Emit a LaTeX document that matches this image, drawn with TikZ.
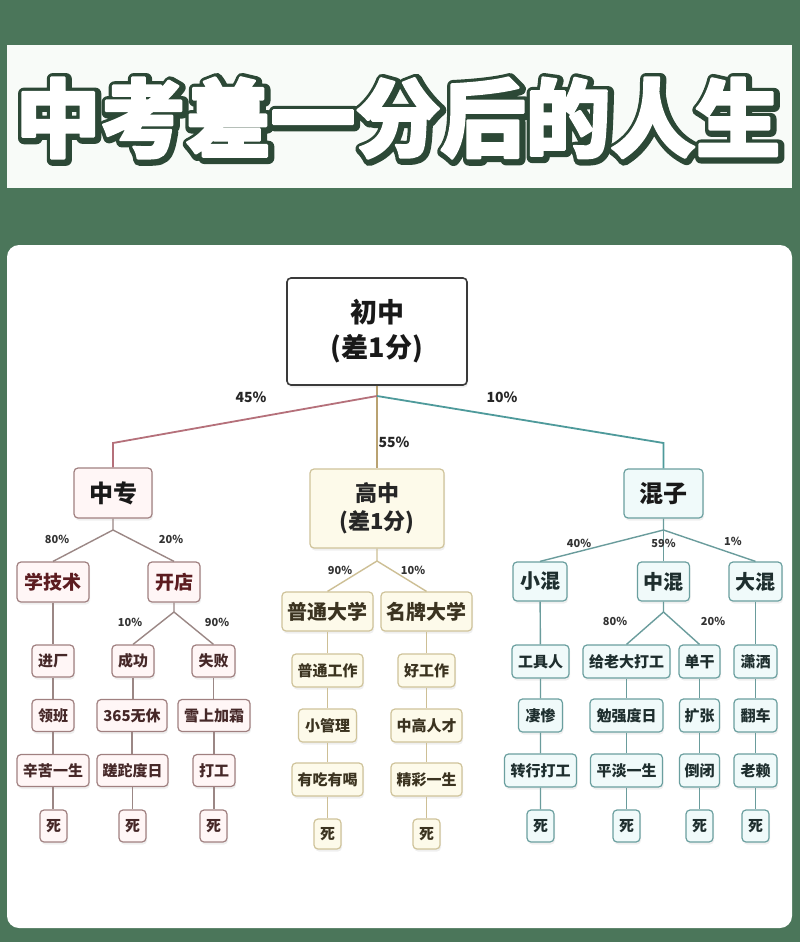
\documentclass[tikz,border=0pt]{standalone}
\usepackage{fontspec}
\setmainfont{Noto Sans CJK SC}
\usetikzlibrary{calc,shadows}
\newcommand\myfs[1]{\fontsize{#1}{#1}\selectfont}
\newcommand\strokedtext[2]{\special{pdf:literal direct 2 Tr #1 w 1 j}#2\special{pdf:literal direct 0 Tr 1 w 0 j}}
\definecolor{bgc}{RGB}{75,118,90}
\definecolor{titleol}{RGB}{44,72,54}
\definecolor{titlebox}{RGB}{248,251,248}
\definecolor{rootbd}{RGB}{58,58,58}
\definecolor{lbd}{RGB}{160,128,128}
\definecolor{lfl}{RGB}{255,246,246}
\definecolor{ltx}{RGB}{70,40,40}
\definecolor{lbig}{RGB}{92,28,32}
\definecolor{led}{RGB}{155,135,133}
\definecolor{ltop}{RGB}{181,112,122}
\definecolor{mbd}{RGB}{207,195,154}
\definecolor{mfl}{RGB}{253,250,234}
\definecolor{mtx}{RGB}{59,51,32}
\definecolor{med}{RGB}{205,191,149}
\definecolor{mtop}{RGB}{185,162,113}
\definecolor{rbd}{RGB}{106,159,159}
\definecolor{rfl}{RGB}{240,250,250}
\definecolor{rtx}{RGB}{30,46,46}
\definecolor{red}{RGB}{106,156,156}
\definecolor{rtop}{RGB}{78,154,155}
\begin{document}
\begin{tikzpicture}[x=1pt,y=-1pt,
  bx/.style={rounded corners=4pt, line width=1.2pt, inner sep=0pt, align=center,
    drop shadow={opacity=0.12, shadow xshift=1pt, shadow yshift=-2.5pt}},
  sz/.style 2 args={minimum width=#1pt, minimum height=#2pt},
  lb/.style={bx, draw=lbd, fill=lfl, text=ltx, font=\bfseries\myfs{15}},
  mb/.style={bx, draw=mbd, fill=mfl, text=mtx, font=\bfseries\myfs{15}},
  rb/.style={bx, draw=rbd, fill=rfl, text=rtx, font=\bfseries\myfs{15}},
  le/.style={draw=led, line width=1.4pt},
  me/.style={draw=med, line width=1.4pt},
  re/.style={draw=red, line width=1.4pt},
  pct/.style={font=\bfseries\myfs{11}, text=black!80, inner sep=0pt},
  bigpct/.style={font=\bfseries\myfs{14}, text=black!85, inner sep=0pt},
  ttl/.style={font=\bfseries\myfs{85}, inner sep=0pt}
]
\useasboundingbox (0,0) rectangle (800,942);
\fill[bgc] (0,0) rectangle (800,942);
% title
\fill[titlebox] (7,45) rectangle (792,188);
\node[ttl, text=titleol] (titleshadow) at (399.5,119.5) {\strokedtext{12}{中考差一分后的人生}};
\node[ttl, text=white] (title) at (398,118) {\strokedtext{2.5}{中考差一分后的人生}};
% panel
\fill[white, rounded corners=12pt] (7,245) rectangle (792,928);

% root and first level
\node[bx, draw=rootbd, fill=white, line width=1.6pt, sz={180}{107}, font=\bfseries\myfs{27}, text=black!90] (root) at (377,331.5) {\raisebox{-3pt}{初中}\\[8pt]\raisebox{-3pt}{(差1分)}};
\node[lb, sz={78}{50}, font=\bfseries\myfs{24}, text=black!90] (zz) at (113,493) {中专};
\node[mb, sz={134}{79}, font=\bfseries\myfs{22}, text=black!85] (gz) at (377,508.5) {高中\\[6pt](差1分)};
\node[rb, sz={79}{49}, font=\bfseries\myfs{24}, text=black!90] (hz) at (663.5,493.5) {混子};

\coordinate (rj) at (377,396);
\coordinate (lc) at (113,443);
\coordinate (rc) at (663.5,443);
\draw[mtop, line width=1.8pt] (root.south) -- (gz.north);
\draw[ltop, line width=1.8pt] (rj) -- (lc) -- (zz.north);
\draw[rtop, line width=1.8pt] (rj) -- (rc) -- (hz.north);
\node[bigpct] (p45) at (251,397) {45\%};
\node[bigpct] (p10) at (502,397) {10\%};
\node[bigpct] (p55) at (394,442) {55\%};

% ---------------- left tree
\node[lb, sz={72}{40}, font=\bfseries\myfs{19}, text=lbig] (xjs) at (53,582) {学技术};
\node[lb, sz={52}{40}, font=\bfseries\myfs{19}, text=lbig] (kd) at (174,582) {开店};
\coordinate (j1) at (113,530);
\draw[le] (zz.south) -- (j1) -- (xjs.north);
\draw[le] (j1) -- (kd.north);
\node[pct] (p80a) at (57,539) {80\%};
\node[pct] (p20a) at (171,539) {20\%};

\node[lb, sz={42}{32}] (l11) at (53,661) {进厂};
\node[lb, sz={42}{32}] (l21) at (133,661) {成功};
\node[lb, sz={43}{32}] (l31) at (213.5,661) {失败};
\node[lb, sz={42}{32}] (l12) at (53,715.5) {领班};
\node[lb, sz={70}{32}] (l22) at (132,715.5) {365无休};
\node[lb, sz={72}{32}] (l32) at (214,715.5) {雪上加霜};
\node[lb, sz={72}{32}] (l13) at (53,770.5) {辛苦一生};
\node[lb, sz={71}{32}] (l23) at (132.5,770.5) {蹉跎度日};
\node[lb, sz={42}{32}] (l33) at (214,770.5) {打工};
\node[lb, sz={27}{32}] (l14) at (53.5,826) {死};
\node[lb, sz={27}{32}] (l24) at (132.5,826) {死};
\node[lb, sz={27}{32}] (l34) at (213.5,826) {死};
\coordinate (j2) at (174,612);
\draw[le] (kd.south) -- (j2) -- (l21.north);
\draw[le] (j2) -- (l31.north);
\node[pct] (p10b) at (130,622) {10\%};
\node[pct] (p90b) at (217,622) {90\%};
\draw[le] (xjs.south) -- (xjs.south |- l11.north);
\draw[le] (l11) -- (l12) (l12) -- (l13) (l13) -- (l13 |- l14.north);
\draw[le] (l21) -- (l21 |- l22.north) (l22) -- (l22 |- l23.north) (l23) -- (l23 |- l24.north);
\draw[le] (l31) -- (l31 |- l32.north) (l32) -- (l32 |- l33.north) (l33) -- (l33 |- l34.north);

% ---------------- middle tree
\node[mb, sz={91}{39}, font=\bfseries\myfs{20}] (ptdx) at (327.5,611.5) {普通大学};
\node[mb, sz={91}{39}, font=\bfseries\myfs{20}] (mpdx) at (426.5,611.5) {名牌大学};
\coordinate (j3) at (377,561);
\draw[me] (gz.south) -- (j3) -- (ptdx.north);
\draw[me] (j3) -- (mpdx.north);
\node[pct] (p90c) at (340,570) {90\%};
\node[pct] (p10c) at (413,570) {10\%};
\node[mb, sz={71}{33}] (m11) at (327.5,670.5) {普通工作};
\node[mb, sz={57}{33}] (m21) at (426.5,670.5) {好工作};
\node[mb, sz={58}{33}] (m12) at (327.5,725.5) {小管理};
\node[mb, sz={71}{33}] (m22) at (426.5,725.5) {中高人才};
\node[mb, sz={71}{33}] (m13) at (327.5,779.5) {有吃有喝};
\node[mb, sz={71}{33}] (m23) at (426.5,779.5) {精彩一生};
\node[mb, sz={27}{30}] (m14) at (327.5,834) {死};
\node[mb, sz={27}{30}] (m24) at (426.5,834) {死};
\draw[me] (ptdx) -- (m11) (m11) -- (m12) (m12) -- (m13) (m13) -- (m14);
\draw[me] (mpdx) -- (m21) (m21) -- (m22) (m22) -- (m23) (m23) -- (m24);

% ---------------- right tree
\node[rb, sz={54}{39}, font=\bfseries\myfs{20}] (xh) at (540,581.5) {小混};
\node[rb, sz={52}{39}, font=\bfseries\myfs{20}] (zh) at (663.5,581.5) {中混};
\node[rb, sz={53}{39}, font=\bfseries\myfs{20}] (dh) at (755.5,581.5) {大混};
\coordinate (j4) at (663.5,530);
\draw[re] (hz.south) -- (j4) -- (xh.north);
\draw[re] (j4) -- (zh.north);
\draw[re] (j4) -- (dh.north);
\node[pct] (p40) at (579,543) {40\%};
\node[pct] (p59) at (663.5,543) {59\%};
\node[pct] (p1) at (733,541) {1\%};

\node[rb, sz={57}{33}] (r11) at (540.5,661.5) {工具人};
\node[rb, sz={87}{33}] (r21) at (626.5,661.5) {给老大打工};
\node[rb, sz={41}{33}] (r31) at (699.5,661.5) {单干};
\node[rb, sz={43}{33}] (r41) at (755.5,661.5) {潇洒};
\node[rb, sz={44}{33}] (r12) at (540.5,715.5) {凄惨};
\node[rb, sz={73}{33}] (r22) at (626.5,715.5) {勉强度日};
\node[rb, sz={40}{33}] (r32) at (699.5,715.5) {扩张};
\node[rb, sz={43}{33}] (r42) at (755.5,715.5) {翻车};
\node[rb, sz={72}{33}] (r13) at (540.5,770.5) {转行打工};
\node[rb, sz={72}{33}] (r23) at (626.5,770.5) {平淡一生};
\node[rb, sz={40}{33}] (r33) at (699.5,770.5) {倒闭};
\node[rb, sz={43}{33}] (r43) at (755.5,770.5) {老赖};
\node[rb, sz={27}{32}] (r14) at (540.5,826) {死};
\node[rb, sz={27}{32}] (r24) at (626.5,826) {死};
\node[rb, sz={27}{32}] (r34) at (699.5,826) {死};
\node[rb, sz={27}{32}] (r44) at (755.5,826) {死};
\coordinate (j5) at (663.5,612);
\draw[re] (zh.south) -- (j5) -- (r21.north);
\draw[re] (j5) -- (r31.north);
\node[pct] (p80d) at (615,621) {80\%};
\node[pct] (p20d) at (713,621) {20\%};
\draw[re] (xh) -- (r11) (r11) -- (r12) (r12) -- (r13) (r13) -- (r14);
\draw[re] (r21) -- (r22) (r22) -- (r23) (r23) -- (r24);
\draw[re] (r31) -- (r32) (r32) -- (r33) (r33) -- (r34);
\draw[re] (dh) -- (r41) (r41) -- (r42) (r42) -- (r43) (r43) -- (r44);
\end{tikzpicture}
\end{document}
